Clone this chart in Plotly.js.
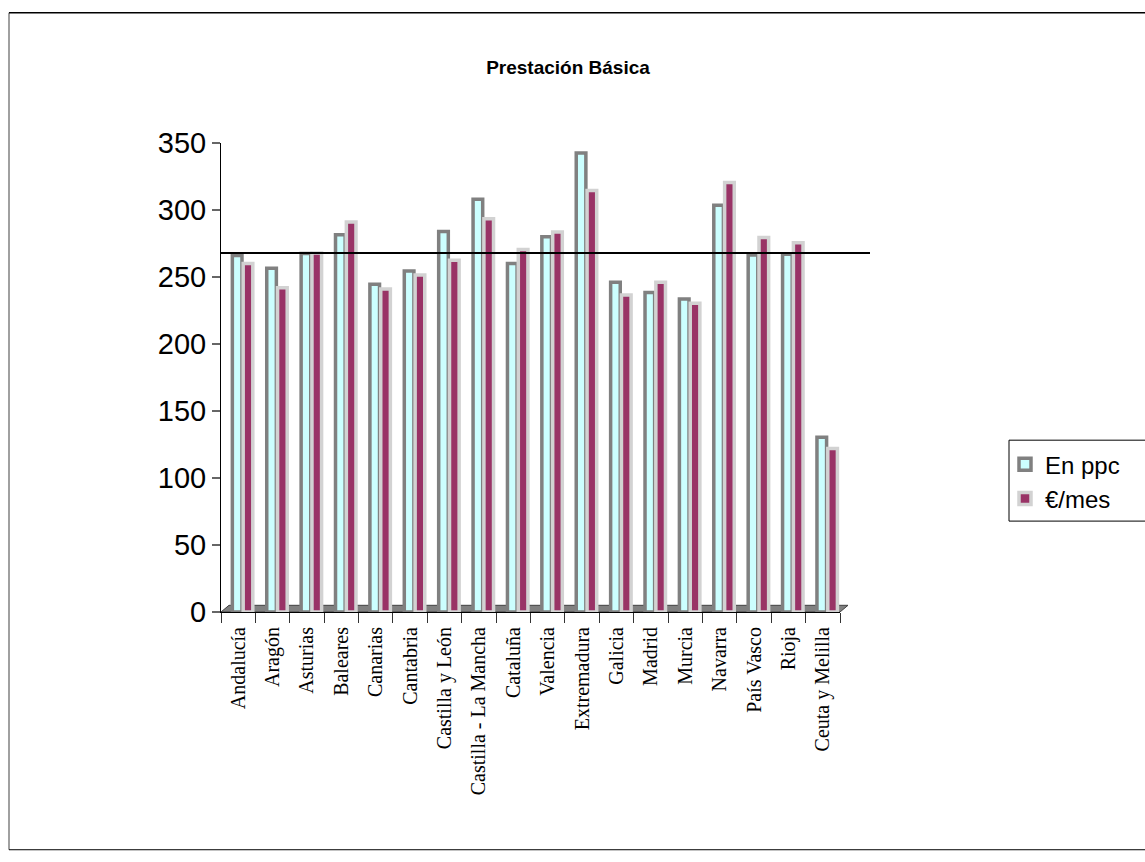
<!DOCTYPE html>
<html>
<head>
<meta charset="utf-8">
<script src="https://cdn.plot.ly/plotly-3.0.1.min.js"></script>
<style>
  html, body { margin: 0; padding: 0; background: #ffffff; }
  #chart { width: 1145px; height: 862px; }
</style>
</head>
<body>
<div id="chart"></div>
<script>
// Comunidades autónomas
const categories = [
  "Andalucía", "Aragón", "Asturias", "Baleares", "Canarias", "Cantabria",
  "Castilla y León", "Castilla - La Mancha", "Cataluña", "Valencia",
  "Extremadura", "Galicia", "Madrid", "Murcia", "Navarra", "País Vasco",
  "Rioja", "Ceuta y Melilla"
];

// Prestación básica en paridades de poder de compra
const enPpc = [266, 256.5, 267.5, 281.5, 244.5, 254.5, 284, 308, 260, 280,
               342.5, 246, 238.5, 233.5, 303.5, 266.5, 267, 130.5];

// Prestación básica en euros al mes
const euroMes = [260, 242, 268, 291, 241, 251.5, 262.5, 293.5, 270.5, 283.5,
                 314.5, 236.5, 246, 230.5, 320.5, 279.5, 275.5, 122];

// Nivel de referencia (línea horizontal)
const nivelReferencia = 268;

const yTicks = [0, 50, 100, 150, 200, 250, 300, 350];

// Plot area in pixels
const W = 1145, H = 862;
const plotL = 221, plotR = 840, plotT = 142.5, plotB = 612;
const pw = plotR - plotL, ph = plotB - plotT;
const px = v => (v - plotL) / pw;      // pixel x -> paper x
const py = v => (plotB - v) / ph;      // pixel y -> paper y

const traces = [
  {
    type: "bar",
    name: "En ppc",
    x: categories,
    y: enPpc,
    offset: -0.17,
    width: 0.28,
    marker: { color: "#ccffff", line: { color: "#808080", width: 3.5 } },
    hoverinfo: "skip"
  },
  {
    type: "bar",
    name: "€/mes",
    x: categories,
    y: euroMes,
    offset: 0.145,
    width: 0.28,
    marker: { color: "#993366", line: { color: "#d2d2d2", width: 3.5 } },
    hoverinfo: "skip"
  }
];

const floorH = 5.0;         // depth of the 3D floor, in axis units
const floorDx = 8 / pw;     // horizontal skew of the floor, paper units

const layout = {
  width: W,
  height: H,
  paper_bgcolor: "#ffffff",
  plot_bgcolor: "rgba(0,0,0,0)",
  margin: { l: plotL, r: W - plotR, t: plotT, b: H - plotB, pad: 0 },
  barmode: "overlay",
  showlegend: true,
  title: {
    text: "Prestación Básica",
    font: { family: "Liberation Sans, Arial, sans-serif", size: 19, color: "#000000", weight: 700 },
    xref: "container", yref: "container",
    x: 568 / W, xanchor: "center",
    y: 1 - 67 / H, yanchor: "middle"
  },
  xaxis: {
    type: "category",
    range: [-0.5, categories.length - 0.5],
    showline: true, linecolor: "#000000", linewidth: 1,
    ticks: "outside", tickson: "boundaries", ticklen: 10, tickcolor: "#333333", tickwidth: 1,
    tickangle: -90,
    ticklabelstandoff: 6,
    tickfont: { family: "Liberation Serif, Times New Roman, serif", size: 20, color: "#000000" },
    showgrid: false, zeroline: false, fixedrange: true
  },
  yaxis: {
    range: [0, 350],
    tickmode: "array",
    tickvals: yTicks,
    ticktext: yTicks.map(String),
    showline: true, linecolor: "#000000", linewidth: 1,
    ticks: "outside", ticklen: 8, tickcolor: "#666666", tickwidth: 2,
    tickfont: { family: "Liberation Sans, Arial, sans-serif", size: 29, color: "#000000" },
    showgrid: false, zeroline: false, fixedrange: true
  },
  legend: {
    x: px(1005), xanchor: "left",
    y: py(442), yanchor: "top",
    borderwidth: 0,
    bgcolor: "rgba(0,0,0,0)",
    font: { family: "Liberation Sans, Arial, sans-serif", size: 24, color: "#000000" },
    itemwidth: 30,
    tracegroupgap: 0,
    traceorder: "normal"
  },
  shapes: [
    // chart frame
    { type: "line", xref: "paper", yref: "paper", x0: px(9), x1: px(9), y0: py(12), y1: py(850),
      line: { color: "#808080", width: 1.5 } },
    { type: "line", xref: "paper", yref: "paper", x0: px(9), x1: px(1160), y0: py(12), y1: py(12),
      line: { color: "#000000", width: 1.5 } },
    { type: "line", xref: "paper", yref: "paper", x0: px(9), x1: px(1160), y0: py(850), y1: py(850),
      line: { color: "#000000", width: 1 } },
    // legend box, running past the right edge
    { type: "rect", xref: "paper", yref: "paper", layer: "below",
      x0: px(1009), x1: px(1170), y0: py(440), y1: py(521),
      fillcolor: "#ffffff", line: { color: "#000000", width: 1 } },
    // 3D floor under the columns
    { type: "path", xref: "paper", yref: "y", layer: "below",
      path: `M 0,0 L ${floorDx},${floorH} L ${1 + floorDx},${floorH} L 1,0 Z`,
      fillcolor: "#808080", line: { color: "#404040", width: 1 } },
    // reference level
    { type: "line", xref: "paper", yref: "y", x0: 0, x1: px(870), y0: nivelReferencia, y1: nivelReferencia,
      line: { color: "#000000", width: 2 } }
  ]
};

Plotly.newPlot("chart", traces, layout, { displayModeBar: false, staticPlot: true });
</script>
</body>
</html>
